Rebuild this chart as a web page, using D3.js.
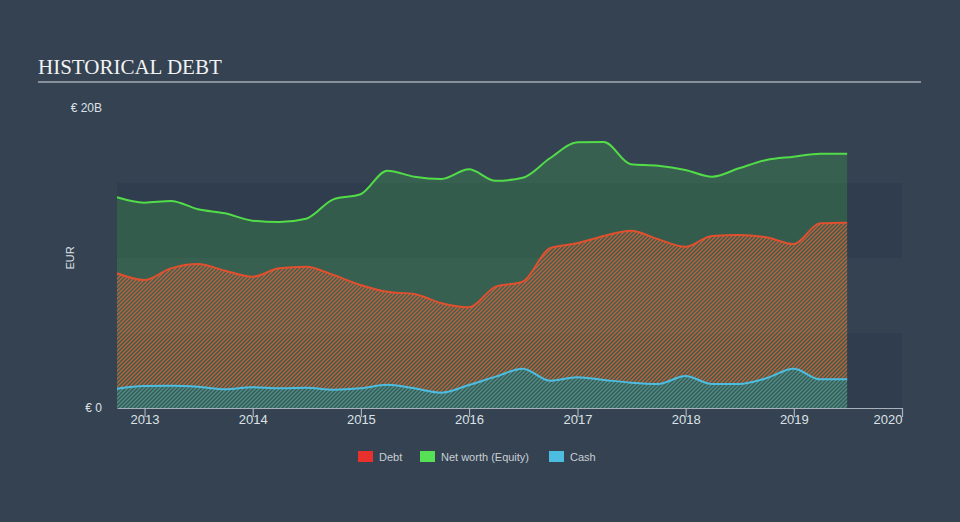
<!DOCTYPE html>
<html>
<head>
<meta charset="utf-8">
<script src="https://cdn.jsdelivr.net/npm/d3@7"></script>
<style>
  html, body { margin: 0; padding: 0; background: #344252; }
  svg { display: block; }
</style>
</head>
<body>
<svg id="chart" width="960" height="522"></svg>
<script>
// ---- data (EUR billions, quarter ends) ----
const dates = [
  "2012-09-30","2012-12-31","2013-03-31","2013-06-30","2013-09-30","2013-12-31",
  "2014-03-31","2014-06-30","2014-09-30","2014-12-31","2015-03-31","2015-06-30",
  "2015-09-30","2015-12-31","2016-03-31","2016-06-30","2016-09-30","2016-12-31",
  "2017-03-31","2017-06-30","2017-09-30","2017-12-31","2018-03-31","2018-06-30",
  "2018-09-30","2018-12-31","2019-03-31","2019-06-30"
];
const equity = [14.05,13.69,13.8,13.25,12.98,12.49,12.4,12.62,13.91,14.25,15.82,15.42,
  15.27,15.91,15.15,15.35,16.65,17.71,17.73,16.25,16.15,15.87,15.42,15.98,16.53,16.75,16.95,16.95];
const debt = [8.98,8.53,9.31,9.6,9.15,8.75,9.31,9.42,8.87,8.2,7.75,7.6,
  6.98,6.71,8.09,8.42,10.65,10.98,11.47,11.82,11.25,10.75,11.47,11.53,11.38,10.93,12.31,12.35];
const cash = [1.29,1.47,1.49,1.42,1.25,1.38,1.31,1.35,1.22,1.31,1.55,1.31,
  1.02,1.53,2.09,2.62,1.82,2.05,1.87,1.69,1.6,2.13,1.6,1.6,1.98,2.62,1.91,1.91];
const yearTicks = ["2013","2014","2015","2016","2017","2018","2019","2020"];
const yLabels = [{v: 0, t: "€ 0"}, {v: 20, t: "€ 20B"}];
const legendItems = [
  {name: "Debt", color: "#e8302c"},
  {name: "Net worth (Equity)", color: "#55e055"},
  {name: "Cash", color: "#4cbde0"}
];

// ---- setup ----
const svg = d3.select("#chart");
const parse = d3.timeParse("%Y-%m-%d");
const rows = dates.map((d, i) => ({date: parse(d), equity: equity[i], debt: debt[i], cash: cash[i]}));

const x = d3.scaleTime()
  .domain([parse("2012-09-30"), parse("2020-01-01")])
  .range([117, 902]);
const y = d3.scaleLinear().domain([0, 20]).range([408, 108]);

const defs = svg.append("defs");
function hatch(id, color, width, opacity) {
  const p = defs.append("pattern").attr("id", id)
    .attr("patternUnits", "userSpaceOnUse").attr("width", 4).attr("height", 4);
  p.append("path").attr("d", "M-1,1 l2,-2 M0,4 l4,-4 M3,5 l2,-2")
    .attr("stroke", color).attr("stroke-width", width).attr("stroke-opacity", opacity);
}
hatch("debtHatch", "#d4603a", 1.5, 0.85);
hatch("cashHatch", "#6aaec0", 1.5, 0.55);

// Title
svg.append("text").attr("x", 38).attr("y", 74)
  .attr("font-family", "'Liberation Serif', 'Times New Roman', serif")
  .attr("font-size", 21).attr("fill", "#f2f2f2").text("HISTORICAL DEBT");
svg.append("line").attr("x1", 38).attr("x2", 921).attr("y1", 82).attr("y2", 82)
  .attr("stroke", "#a3abb4").attr("stroke-width", 1.5);

// Background bands (every 5B)
const bandStops = [0, 5, 10, 15];
svg.append("g").selectAll("rect").data(bandStops).join("rect")
  .attr("x", 117).attr("width", 902 - 117)
  .attr("y", d => y(d + 5)).attr("height", d => y(d) - y(d + 5))
  .attr("fill", (d, i) => i % 2 === 0 ? "#2f3d4e" : "#344252");

// Areas
const curve = d3.curveMonotoneX;
const eqArea = d3.area().x(d => x(d.date)).y0(y(0)).y1(d => y(d.equity)).curve(curve);
const debtArea = d3.area().x(d => x(d.date)).y0(d => y(d.cash)).y1(d => y(d.debt)).curve(curve);
const cashArea = d3.area().x(d => x(d.date)).y0(y(0)).y1(d => y(d.cash)).curve(curve);

svg.append("path").datum(rows).attr("d", eqArea).attr("fill", "#4ddb4d").attr("fill-opacity", 0.2);
svg.append("path").datum(rows).attr("d", debtArea).attr("fill", "url(#debtHatch)");
svg.append("path").datum(rows).attr("d", cashArea).attr("fill", "url(#cashHatch)");

// Lines
const line = key => d3.line().x(d => x(d.date)).y(d => y(d[key])).curve(curve);
svg.append("path").datum(rows).attr("d", line("equity")).attr("fill", "none")
  .attr("stroke", "#52dc48").attr("stroke-width", 2);
svg.append("path").datum(rows).attr("d", line("debt")).attr("fill", "none")
  .attr("stroke", "#e0502e").attr("stroke-width", 2);
svg.append("path").datum(rows).attr("d", line("cash")).attr("fill", "none")
  .attr("stroke", "#4cbde0").attr("stroke-width", 2);

// X axis
const tickDates = yearTicks.map(t => parse(t + "-01-01"));
const xAxis = d3.axisBottom(x).tickValues(tickDates).tickSize(9).tickSizeOuter(0)
  .tickFormat((d, i) => yearTicks[i]);
const gx = svg.append("g").attr("transform", "translate(0,408)").call(xAxis);
gx.select(".domain").attr("stroke", "#a8b2bc").attr("stroke-width", 1.2);
gx.selectAll(".tick line").attr("stroke", "#a8b2bc").attr("stroke-width", 1.2);
gx.selectAll(".tick text").attr("fill", "#dde1e5").attr("font-size", 13)
  .attr("font-family", "'Liberation Sans', Arial, sans-serif").attr("dy", "0.5em").attr("y", 9);
gx.selectAll(".tick text").filter((d, i) => i === yearTicks.length - 1).attr("text-anchor", "end");

// Y labels
svg.append("g").selectAll("text").data(yLabels).join("text")
  .attr("x", 102).attr("y", d => y(d.v)).attr("dy", "0.35em").attr("text-anchor", "end")
  .attr("fill", "#dde1e5").attr("font-size", 12)
  .attr("font-family", "'Liberation Sans', Arial, sans-serif").text(d => d.t);
svg.append("text").attr("transform", "translate(74,258) rotate(-90)")
  .attr("text-anchor", "middle").attr("fill", "#dde1e5").attr("font-size", 11)
  .attr("font-family", "'Liberation Sans', Arial, sans-serif").text("EUR");

// Legend
const legendX = [358, 420, 549];
const lg = svg.append("g").selectAll("g").data(legendItems).join("g")
  .attr("transform", (d, i) => `translate(${legendX[i]},451)`);
lg.append("rect").attr("width", 15).attr("height", 11).attr("fill", d => d.color);
lg.append("text").attr("x", 21).attr("y", 6).attr("dy", "0.35em")
  .attr("fill", "#c9ced4").attr("font-size", 11)
  .attr("font-family", "'Liberation Sans', Arial, sans-serif").text(d => d.name);
</script>
</body>
</html>
